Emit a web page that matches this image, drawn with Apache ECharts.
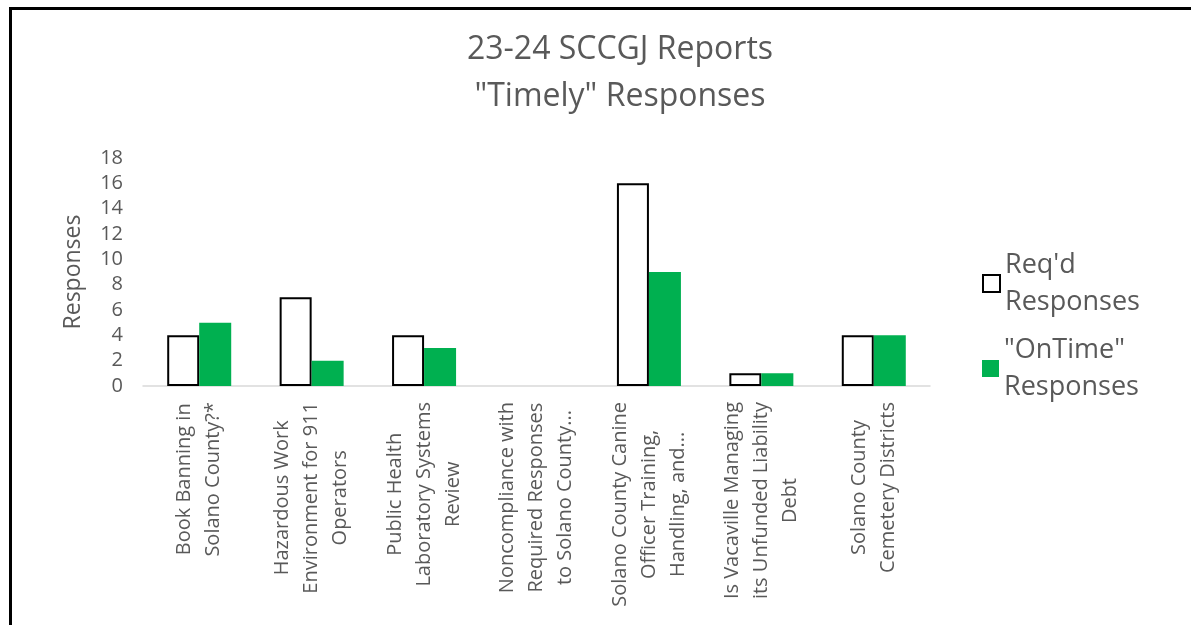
<!DOCTYPE html>
<html>
<head>
<meta charset="utf-8">
<script src="https://cdn.jsdelivr.net/npm/echarts@6/dist/echarts.min.js"></script>
<style>
  html, body { margin: 0; padding: 0; background: #fff; }
  #main { width: 1191px; height: 625px; }
</style>
</head>
<body>
<div id="main"></div>
<script>
// report titles, already split the way the axis wraps them
var categories = [
  'Book Banning in\nSolano County?*',
  'Hazardous Work\nEnvironment for 911\nOperators',
  'Public Health\nLaboratory Systems\nReview',
  'Noncompliance with\nRequired Responses\nto Solano County...',
  'Solano County Canine\nOfficer Training,\nHandling, and...',
  'Is Vacaville Managing\nits Unfunded Liability\nDebt',
  'Solano County\nCemetery Districts'
];
var seriesNames = ["Req'd Responses", '"OnTime" Responses'];
var reqd = [4, 7, 4, 0, 16, 1, 4];
var onTime = [5, 2, 3, 0, 9, 1, 4];
var yTicks = [0, 2, 4, 6, 8, 10, 12, 14, 16, 18];

var txt = '#595959';
var font = '"Open Sans", sans-serif';

var chart = echarts.init(document.getElementById('main'));

// legend label: break "Req'd Responses" into two lines
function legendFmt(name) {
  var i = name.lastIndexOf(' ');
  return name.slice(0, i) + '\n' + name.slice(i + 1);
}
var legendText = {
  color: txt, fontFamily: font, fontSize: 27, lineHeight: 37,
  padding: [37, 0, 0, 0] // keep the icon level with the first line
};

var option = {
  backgroundColor: '#fff',
  title: {
    text: '23-24 SCCGJ Reports\n"Timely" Responses',
    left: 615, top: 21, textAlign: 'center',
    textStyle: { color: txt, fontFamily: font, fontSize: 32, fontWeight: 'normal', lineHeight: 47 }
  },
  legend: [{
    data: [seriesNames[0]],
    left: 982, top: 228, padding: 0,
    icon: 'rect',
    itemWidth: 17, itemHeight: 17, itemGap: 0,
    formatter: legendFmt,
    textStyle: legendText
  }, {
    data: [seriesNames[1]],
    left: 982, top: 313, padding: 0,
    icon: 'rect',
    itemWidth: 17, itemHeight: 17, itemGap: 0,
    formatter: legendFmt,
    textStyle: legendText
  }],
  grid: { left: 143, right: 261, top: 158, bottom: 239, containLabel: false },
  xAxis: {
    type: 'category',
    data: categories,
    axisLine: { lineStyle: { color: '#d9d9d9', width: 1.5 } },
    axisTick: { show: false },
    axisLabel: {
      interval: 0, rotate: 90, margin: 16,
      color: txt, fontFamily: font, fontSize: 20, lineHeight: 29,
      formatter: function (v) {
        return v.split('\n').map(function (s) { return '{c|' + s + '}'; }).join('\n');
      },
      rich: { c: { align: 'center', color: txt, fontFamily: font, fontSize: 20, lineHeight: 29 } }
    }
  },
  yAxis: {
    type: 'value',
    min: yTicks[0], max: yTicks[yTicks.length - 1], interval: 2,
    name: 'Responses', nameLocation: 'middle', nameGap: 58, nameRotate: 90,
    nameTextStyle: { color: txt, fontFamily: font, fontSize: 23 },
    axisLine: { show: false },
    axisTick: { show: false },
    splitLine: { show: false },
    axisLabel: { color: txt, fontFamily: font, fontSize: 20, margin: 20 }
  },
  series: [{
    name: seriesNames[0],
    type: 'bar',
    // a zero bar draws no outline
    data: reqd.map(function (v) {
      return v === 0 ? { value: v, itemStyle: { borderWidth: 0 } } : v;
    }),
    barWidth: 32,
    barGap: '0%',
    itemStyle: { color: '#fff', borderColor: '#000', borderWidth: 2 }
  }, {
    name: seriesNames[1],
    type: 'bar',
    data: onTime,
    barWidth: 32,
    itemStyle: { color: '#00b050' }
  }],
  graphic: [{
    type: 'polyline',
    shape: { points: [[10.5, 640], [10.5, 8.5], [1200, 8.5]] },
    style: { stroke: '#000', lineWidth: 3, fill: null },
    silent: true
  }]
};

chart.setOption(option);
</script>
</body>
</html>
